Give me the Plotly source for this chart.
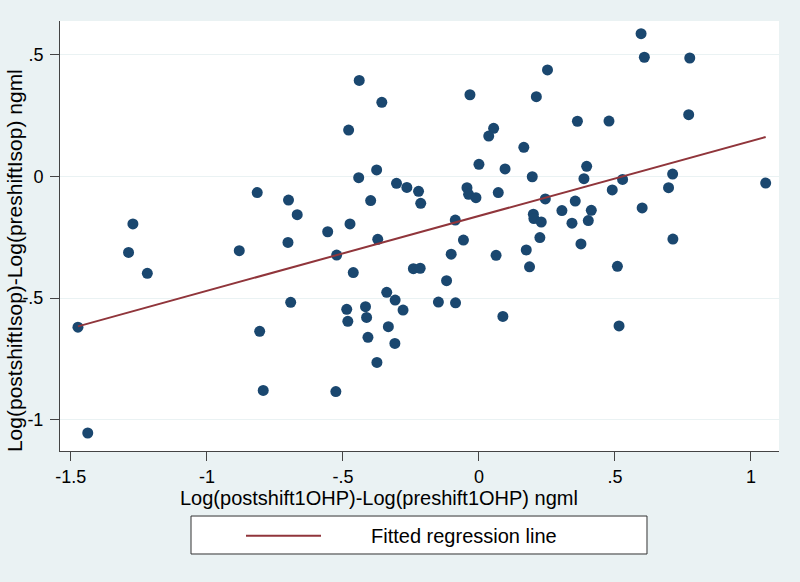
import numpy as np
import plotly.graph_objects as go

# Data
x_vals = [-1.474, -1.438, -1.272, -1.288, -1.219, -0.881, -0.815, -0.806, -0.793, -0.700,
          -0.668, -0.702, -0.692, -0.556, -0.523, -0.526, -0.479, -0.440, -0.357, -0.442,
          -0.376, -0.398, -0.474, -0.372, -0.462, -0.303, -0.339, -0.308, -0.486, -0.482,
          -0.417, -0.413, -0.408, -0.375, -0.333, -0.309, -0.279, -0.119, -0.149, -0.086,
          0.088, 0.515, 0.596, 0.608, 0.775, 0.252, -0.033, 0.211, 0.771, 0.362,
          0.478, 0.054, 0.036, 0.165, 0.000, 0.096, 0.396, 0.196, 0.386, 0.712,
          1.054, 0.528, 0.697, 0.490, -0.265, -0.222, -0.214, -0.044, -0.038, -0.011,
          0.071, 0.244, 0.354, 0.600, 0.305, 0.413, 0.200, 0.202, 0.229, 0.342,
          0.402, -0.087, -0.057, 0.224, 0.375, 0.713, -0.102, 0.063, 0.174, 0.186,
          0.509, -0.241, -0.216]
y_vals = [-0.619, -1.054, -0.195, -0.312, -0.398, -0.305, -0.066, -0.636, -0.879, -0.097,
          -0.157, -0.271, -0.517, -0.227, -0.323, -0.884, 0.191, 0.395, 0.305, -0.005,
          0.027, -0.099, -0.195, -0.258, -0.395, -0.028, -0.476, -0.508, -0.546, -0.595,
          -0.535, -0.579, -0.661, -0.764, -0.617, -0.686, -0.549, -0.428, -0.516, -0.519,
          -0.575, -0.614, 0.587, 0.490, 0.487, 0.438, 0.336, 0.328, 0.254, 0.227,
          0.228, 0.198, 0.166, 0.120, 0.050, 0.031, 0.042, -0.001, -0.009, 0.010,
          -0.027, -0.012, -0.046, -0.055, -0.045, -0.061, -0.110, -0.046, -0.073, -0.087,
          -0.066, -0.092, -0.101, -0.129, -0.140, -0.139, -0.155, -0.173, -0.187, -0.192,
          -0.181, -0.179, -0.261, -0.251, -0.277, -0.257, -0.319, -0.324, -0.302, -0.371,
          -0.369, -0.379, -0.377]

x_ticks = [-1.5, -1, -0.5, 0, 0.5, 1]
x_tick_labels = ["-1.5", "-1", "-.5", "0", ".5", "1"]
y_ticks = [-1, -0.5, 0, 0.5]
y_tick_labels = ["-1", "-.5", "0", ".5"]

x_title = "Log(postshift1OHP)-Log(preshift1OHP) ngml"
y_title = "Log(postshiftIsop)-Log(preshiftIsop) ngml"
legend_label = "Fitted regression line"

xa = np.array(x_vals)
ya = np.array(y_vals)
slope, intercept = np.polyfit(xa, ya, 1)
fx = np.array([xa.min(), xa.max()])
fy = intercept + slope * fx

BG = "#EAF2F3"
NAVY = "#1A476F"
MAROON = "#90353B"
FONT = "Liberation Sans, Arial, sans-serif"

fig = go.Figure()
fig.add_trace(go.Scatter(x=x_vals, y=y_vals, mode="markers",
                         marker=dict(color=NAVY, size=11, line=dict(width=0)),
                         showlegend=False, hoverinfo="skip"))
fig.add_trace(go.Scatter(x=fx, y=fy, mode="lines",
                         line=dict(color=MAROON, width=2),
                         showlegend=False, hoverinfo="skip"))

# Axis titles (Stata centres them on the graph region, not the plot region)
fig.add_annotation(text=x_title, xref="paper", yref="paper",
                   x=0.4437, y=-0.109, showarrow=False,
                   xanchor="center", yanchor="middle",
                   font=dict(family=FONT, size=20, color="black"))
fig.add_annotation(text=y_title, xref="paper", yref="paper",
                   x=-0.064, y=0.444, showarrow=False, textangle=-90,
                   xanchor="center", yanchor="middle",
                   font=dict(family=FONT, size=21, color="black"))

# Legend box (Stata style)
fig.add_shape(type="rect", xref="paper", yref="paper",
              x0=0.1822, x1=0.8164, y0=-0.2395, y1=-0.1512,
              line=dict(color="#333333", width=1), fillcolor="white")
fig.add_shape(type="line", xref="paper", yref="paper",
              x0=0.2587, x1=0.3630, y0=-0.197, y1=-0.197,
              line=dict(color=MAROON, width=2))
fig.add_annotation(text=legend_label, xref="paper", yref="paper",
                   x=0.5619, y=-0.197, showarrow=False,
                   xanchor="center", yanchor="middle",
                   font=dict(family=FONT, size=20, color="black"))

fig.update_layout(
    width=800, height=582,
    margin=dict(l=60, r=21, t=21, b=131, autoexpand=False),
    paper_bgcolor=BG, plot_bgcolor="white",
    font=dict(family=FONT, size=17, color="black"),
    showlegend=False,
)
fig.update_xaxes(range=[-1.540, 1.103], tickvals=x_ticks, ticktext=x_tick_labels,
                 showgrid=False, zeroline=False, showline=True, linecolor="#444444",
                 linewidth=1, ticks="outside", ticklen=9, tickcolor="#444444",
                 tickfont=dict(size=18), automargin=False)
fig.update_yaxes(range=[-1.128, 0.639], tickvals=y_ticks, ticktext=y_tick_labels,
                 showgrid=True, gridcolor=BG, gridwidth=1, zeroline=False,
                 showline=True, linecolor="#444444", linewidth=1,
                 ticks="outside", ticklen=9, tickcolor="#444444",
                 tickfont=dict(size=18), automargin=False, ticklabelstandoff=3)

fig.write_html("out.html", config={"displayModeBar": False},
               post_script="document.body.style.margin='0';document.body.style.background='" + BG + "';")
